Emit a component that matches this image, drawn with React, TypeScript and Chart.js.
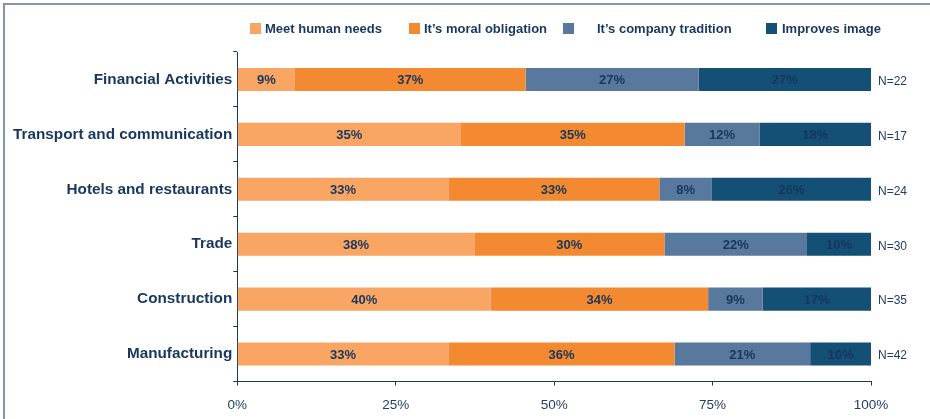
import React, { useEffect, useRef } from 'react';
import { Chart, registerables } from 'chart.js';

Chart.register(...registerables);

const categories = [
  'Financial Activities',
  'Transport and communication',
  'Hotels and restaurants',
  'Trade',
  'Construction',
  'Manufacturing',
];
const seriesNames = ['Meet human needs', 'It’s moral obligation', 'It’s company tradition', 'Improves image'];
const meetHumanNeeds = [9.1, 35.3, 33.3, 37.4, 40.0, 33.3];
const moralObligation = [36.4, 35.3, 33.3, 30.0, 34.3, 35.7];
const companyTradition = [27.3, 11.8, 8.3, 22.5, 8.6, 21.4];
const improvesImage = [27.2, 17.6, 25.1, 10.1, 17.1, 9.6];
const meetLabels = ['9%', '35%', '33%', '38%', '40%', '33%'];
const moralLabels = ['37%', '35%', '33%', '30%', '34%', '36%'];
const traditionLabels = ['27%', '12%', '8%', '22%', '9%', '21%'];
const imageLabels = ['27%', '18%', '26%', '10%', '17%', '10%'];
const sampleSizes = [22, 17, 24, 30, 35, 42];
const xTickValues = [0, 25, 50, 75, 100];

const COLORS = ['#F9A564', '#F38A31', '#58799D', '#144F75'];
const NAVY = '#17375E';
const FONT = "'Liberation Sans', Arial, sans-serif";
// legend layout: [boxX, textX]
const LEGEND_POS: [number, number][] = [
  [250, 265],
  [409, 424],
  [563, 597],
  [766, 782],
];

export default function App() {
  const ref = useRef<HTMLCanvasElement | null>(null);

  useEffect(() => {
    if (!ref.current) return;
    const valueSets = [meetHumanNeeds, moralObligation, companyTradition, improvesImage];
    const labelSets = [meetLabels, moralLabels, traditionLabels, imageLabels];

    const barLabelPlugin = {
      id: 'barLabels',
      afterDatasetsDraw(chart: any) {
        const ctx = chart.ctx;
        ctx.save();
        ctx.font = `bold 13px ${FONT}`;
        ctx.fillStyle = NAVY;
        ctx.textAlign = 'center';
        ctx.textBaseline = 'middle';
        chart.data.datasets.forEach((_: any, i: number) => {
          const meta = chart.getDatasetMeta(i);
          meta.data.forEach((el: any, j: number) => {
            const p = el.getCenterPoint();
            ctx.fillText(labelSets[i][j], p.x, p.y + 1);
          });
        });
        // N= labels
        ctx.font = `12px ${FONT}`;
        ctx.textAlign = 'left';
        ctx.fillStyle = '#1F3D63';
        const yScale = chart.scales.y;
        sampleSizes.forEach((n, j) => {
          ctx.fillText('N=' + n, chart.chartArea.right + 7, yScale.getPixelForValue(j) + 2);
        });
        ctx.restore();
      },
      afterDraw(chart: any) {
        const ctx = chart.ctx;
        ctx.save();
        ctx.font = `bold 13px ${FONT}`;
        ctx.textBaseline = 'middle';
        ctx.textAlign = 'left';
        seriesNames.forEach((name, i) => {
          const [bx, tx] = LEGEND_POS[i];
          ctx.fillStyle = COLORS[i];
          ctx.fillRect(bx, 23, 11, 11);
          ctx.fillStyle = NAVY;
          ctx.fillText(name, tx, 29);
        });
        ctx.restore();
      },
    };

    const chart = new Chart(ref.current, {
      type: 'bar',
      data: {
        labels: categories,
        datasets: seriesNames.map((name, i) => ({
          label: name,
          data: valueSets[i],
          backgroundColor: COLORS[i],
          borderWidth: 0,
          barPercentage: 0.42,
          categoryPercentage: 1,
        })),
      },
      options: {
        indexAxis: 'y',
        animation: false,
        responsive: false,
        devicePixelRatio: 1,
        layout: { padding: { top: 52, right: 59, bottom: -7, left: 12 } },
        plugins: {
          legend: { display: false },
          tooltip: { enabled: false },
        },
        scales: {
          x: {
            stacked: true,
            min: 0,
            max: 100,
            afterBuildTicks: (scale: any) => {
              scale.ticks = xTickValues.map((v) => ({ value: v }));
            },
            ticks: {
              callback: (v: any) => v + '%',
              color: '#243F60',
              font: { family: FONT, size: 13.5, lineHeight: 1 },
              padding: 13.5,
              maxRotation: 0,
            },
            grid: {
              display: true,
              drawOnChartArea: false,
              drawTicks: true,
              tickLength: 4,
              color: NAVY,
            },
            border: { display: true, color: NAVY, width: 1 },
          },
          y: {
            stacked: true,
            ticks: {
              color: NAVY,
              font: { family: FONT, size: 15.3, weight: 'bold' },
              padding: 1,
            },
            grid: {
              display: true,
              offset: true,
              drawOnChartArea: false,
              drawTicks: true,
              tickLength: 4,
              color: NAVY,
            },
            border: { display: true, color: NAVY, width: 1 },
          },
        },
      },
      plugins: [barLabelPlugin],
    } as any);

    return () => chart.destroy();
  }, []);

  return (
    <div style={{ position: 'absolute', left: 0, top: 0, width: 930, height: 419, background: '#fff', overflow: 'hidden' }}>
      <div
        style={{
          position: 'absolute',
          left: 3,
          top: 3,
          width: 940,
          height: 430,
          borderLeft: '2px solid #7F95B2',
          borderTop: '2px solid #7F95B2',
        }}
      />
      <canvas ref={ref} width={930} height={419} style={{ position: 'absolute', left: 0, top: 0, width: 930, height: 419 }} />
    </div>
  );
}
